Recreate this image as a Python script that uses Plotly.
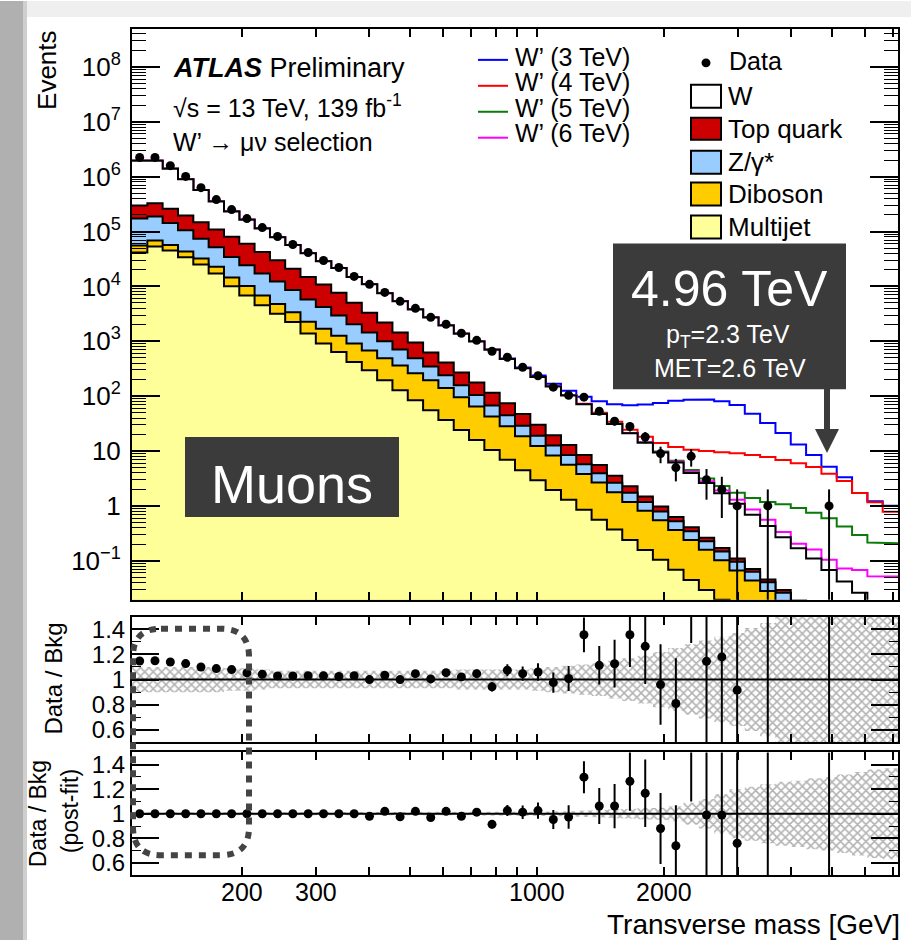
import math
import plotly.graph_objects as go

FIG_W, FIG_H = 911, 941
FONT = "Liberation Sans, Arial, Helvetica, sans-serif"

# ---------------- data ----------------
bin_edges = [110.0, 119.6, 130.0, 141.4, 153.7, 167.1, 181.7, 197.5, 214.7, 233.5,
             253.7, 275.8, 299.9, 326.1, 354.5, 385.4, 419.0, 455.5, 495.2, 538.4,
             585.3, 636.4, 691.8, 752.1, 817.7, 889.0, 966.5, 1050.8, 1142.4, 1242.0,
             1350.2, 1467.9, 1595.9, 1735.0, 1886.3, 2050.7, 2229.5, 2423.9, 2635.2, 2865.0,
             3114.6, 3386.1, 3681.4, 4002.2, 4351.2, 4730.6, 5142.9, 5591.3, 6078.8, 6608.8,
             7184.4]

bkg_w = [1653000, 1623000, 1132000, 700000, 425000, 244000, 152000, 103300, 70900, 49000,
         35500, 25500, 17900, 13900, 9750, 7590, 5330, 3900, 2854, 2098,
         1521, 1101, 816, 583, 403, 275, 193, 130.5, 90.2, 62.5,
         42.0, 27.5, 18.7, 12.7, 8.42, 5.57, 3.59, 2.34, 1.53, 0.98,
         0.619, 0.384, 0.2405, 0.151, 0.0977, 0.0601, 0.0371, 0.023, 0.0141, 0.0088]
bkg_top = [125000, 140000, 116600, 91200, 74300, 56600, 46000, 35600, 25100, 17700,
           12500, 9030, 6650, 4720, 3010, 1870, 1190, 731, 456, 275,
           169, 110.5, 72.0, 47.2, 29.4, 18.5, 11.15, 6.9, 4.34, 2.7,
           1.62, 0.92, 0.55, 0.305, 0.183, 0.106, 0.06, 0.037, 0.022, 0.0134,
           0.0077, 0.005, 0.0032, 0.002, 0.0013, 0.0008, 0.0005, 0.0003, 0.0002, 0.0001]
bkg_z = [116600, 119000, 86000, 62100, 41300, 29100, 19900, 14100, 10400, 7450,
         5180, 3490, 2510, 1690, 1130, 769, 510, 345, 227, 152,
         99, 63, 40.1, 24.9, 16.5, 10.2, 6.75, 4.28, 2.89, 1.95,
         1.28, 0.85, 0.565, 0.362, 0.244, 0.162, 0.107, 0.068, 0.046, 0.0298,
         0.0194, 0.0125, 0.0081, 0.0052, 0.0034, 0.0022, 0.0014, 0.0009, 0.0006, 0.0004]
bkg_diboson = [14100, 15200, 11500, 9000, 7200, 5600, 4400, 3300, 2300, 1600,
               1150, 900, 790, 622, 491, 379, 295, 234, 178, 139,
               104, 71.4, 48.7, 32.2, 21.3, 14.1, 9.35, 6.37, 4.33, 2.95,
               2.1, 1.41, 0.935, 0.655, 0.445, 0.294, 0.195, 0.129, 0.083, 0.0542,
               0.0354, 0.0227, 0.0146, 0.0095, 0.0061, 0.004, 0.0026, 0.0016, 0.001, 0.0006]
bkg_multijet = [41500, 53300, 45200, 34100, 25100, 17200, 10100, 6850, 4520, 3190,
                2240, 1380, 908, 638, 421, 297, 195, 128.5, 84.5, 55.6,
                36.6, 24.1, 15.85, 10.5, 6.92, 4.47, 2.95, 1.95, 1.29, 0.851,
                0.562, 0.372, 0.24, 0.158, 0.105, 0.069, 0.0447, 0.0295, 0.0195, 0.0126,
                0.0083, 0.0055, 0.0036, 0.0023, 0.0015, 0.0009, 0.0006, 0.0004, 0.0002, 0.0001]

# W' signal contributions (drawn on top of the total background)
sig_3tev = [0] * 20 + [1, 2, 3, 5, 7, 10, 14, 18, 22, 27,
                       33, 40, 47, 56, 66, 76, 82, 84, 79, 68,
                       47, 32, 21, 13, 8.4, 5.1, 3.3, 1.7, 1.2, 1.0]
sig_4tev = [0] * 25 + [0.5, 0.8, 1.1, 1.5, 2.0,
                       2.5, 3.0, 3.5, 4.0, 4.6, 5.6, 6.6, 7.4, 7.8, 8.0,
                       7.8, 7.4, 6.6, 5.8, 5.0, 3.8, 2.8, 1.7, 1.15, 0.77]
sig_5tev = [0] * 30 + [0.2, 0.25, 0.3, 0.35, 0.4, 0.45, 0.5, 0.55, 0.6, 0.65,
                       0.7, 0.75, 0.8, 0.75, 0.64, 0.53, 0.38, 0.27, 0.2, 0.2]
sig_6tev = [0] * 33 + [0.12, 0.14, 0.16, 0.18, 0.2, 0.2, 0.2,
                       0.17, 0.13, 0.065, 0.035, 0.05, 0.037, 0.03, 0.042, 0.036, 0.042]

data_counts = [2240000, 2240000, 1585000, 1010000, 630000, 382000, 251000, 172000, 118000, 81000,
               58000, 41500, 29700, 22100, 15200, 10900, 7780, 5340, 3980, 2730,
               2040, 1400, 1040, 658, 512, 337, 236, 146, 104, 96,
               53, 35, 28, 18, 9, 5, 8, 3, 2, 1,
               None, 1, None, None, None, 1, None, None, None, None]
data_err_up = [0] * 30 + [7.3, 5.9, 5.3, 4.2, 3.0, 2.2, 2.8, 1.7, 1.4, 1.0,
                          0, 1.0, 0, 0, 0, 1.0, 0, 0, 0, 0]
data_err_down = [0] * 30 + [7.3, 5.9, 5.3, 4.2, 3.0, 2.2, 2.8, 1.7, 1.4, 0.999,
                            0, 0.999, 0, 0, 0, 0.999, 0, 0, 0, 0]

ratio_prefit = [1.148, 1.15, 1.14, 1.127, 1.10, 1.087, 1.079, 1.053, 1.042, 1.029,
                1.029, 1.03, 1.03, 1.024, 1.03, 1.0, 1.034, 1.0, 1.047, 1.005,
                1.055, 1.021, 1.047, 0.942, 1.074, 1.047, 1.06, 0.976, 1.008, 1.356,
                1.113, 1.126, 1.356, 1.264, 0.96, 0.81, 2.0, 1.145, 1.18, 0.916,
                None, 2.3, None, None, None, 14.7, None, None, None, None]
ratio_prefit_err = [0.001, 0.001, 0.001, 0.001, 0.001, 0.002, 0.002, 0.003, 0.003, 0.004,
                    0.004, 0.005, 0.006, 0.007, 0.008, 0.01, 0.012, 0.014, 0.017, 0.019,
                    0.023, 0.027, 0.032, 0.037, 0.047, 0.057, 0.069, 0.08, 0.099, 0.138,
                    0.153, 0.19, 0.256, 0.3, 0.32, 0.36, 0.71, 0.66, 0.83, 0.92,
                    None, 2.3, None, None, None, 14.7, None, None, None, None]
ratio_postfit = [1.0, 1.0, 1.0, 1.0, 1.0, 1.0, 1.0, 1.0, 1.0, 1.0,
                 1.0, 1.0, 1.0, 1.0, 1.0, 0.98, 1.02, 0.975, 1.02, 0.97,
                 1.02, 0.98, 1.013, 0.914, 1.026, 1.013, 1.026, 0.953, 0.974, 1.298,
                 1.063, 1.063, 1.264, 1.167, 0.88, 0.739, 1.7, 0.99, 0.99, 0.76,
                 None, 2.0, None, None, None, 12.0, None, None, None, None]
ratio_postfit_err = [0.001, 0.001, 0.001, 0.001, 0.001, 0.002, 0.002, 0.003, 0.003, 0.004,
                     0.004, 0.005, 0.006, 0.007, 0.008, 0.01, 0.012, 0.014, 0.017, 0.019,
                     0.022, 0.026, 0.031, 0.035, 0.045, 0.055, 0.066, 0.078, 0.096, 0.13,
                     0.146, 0.18, 0.24, 0.275, 0.29, 0.33, 0.6, 0.57, 0.7, 0.76,
                     None, 2.0, None, None, None, 12.0, None, None, None, None]

band_prefit = [0.10, 0.10, 0.10, 0.10, 0.10, 0.10, 0.09, 0.09, 0.08, 0.07,
               0.07, 0.07, 0.07, 0.07, 0.07, 0.07, 0.07, 0.07, 0.07, 0.07,
               0.07, 0.08, 0.08, 0.08, 0.08, 0.08, 0.09, 0.10, 0.11, 0.12,
               0.13, 0.15, 0.17, 0.19, 0.22, 0.25, 0.28, 0.31, 0.34, 0.37,
               0.41, 0.45, 0.50, 0.6, 0.6, 0.6, 0.6, 0.6, 0.6, 0.6]
band_postfit = [0.01, 0.01, 0.01, 0.01, 0.01, 0.01, 0.01, 0.01, 0.01, 0.01,
                0.01, 0.01, 0.01, 0.01, 0.01, 0.01, 0.01, 0.01, 0.01, 0.01,
                0.012, 0.013, 0.014, 0.015, 0.015, 0.016, 0.017, 0.018, 0.02, 0.025,
                0.03, 0.035, 0.04, 0.045, 0.05, 0.06, 0.09, 0.12, 0.16, 0.2,
                0.22, 0.24, 0.26, 0.27, 0.29, 0.3, 0.32, 0.34, 0.36, 0.37]

x_tick_vals = [200, 300, 1000, 2000]
x_tick_text = ["200", "300", "1000", "2000"]
x_minor_vals = [400, 500, 600, 700, 800, 900, 3000, 4000, 5000, 6000, 7000]
y_main_tick_vals = [1e-1, 1, 10, 1e2, 1e3, 1e4, 1e5, 1e6, 1e7, 1e8]
y_main_tick_text = ["10<sup>−1</sup>", "1", "10", "10<sup>2</sup>", "10<sup>3</sup>",
                    "10<sup>4</sup>", "10<sup>5</sup>", "10<sup>6</sup>", "10<sup>7</sup>",
                    "10<sup>8</sup>"]
y_ratio_tick_vals = [0.6, 0.8, 1.0, 1.2, 1.4]
y_ratio_tick_text = ["0.6", "0.8", "1", "1.2", "1.4"]

stack_names = ["W", "Top quark", "Z/γ*", "Diboson", "Multijet"]
stack_colors = ["#ffffff", "#cc0000", "#99ccff", "#ffcc00", "#ffff99"]
signal_names = ["W’ (3 TeV)", "W’ (4 TeV)", "W’ (5 TeV)", "W’ (6 TeV)"]
signal_colors = ["#0000ff", "#ff0000", "#0a7a0a", "#ff00ff"]


# ---------------- helpers ----------------
def px(x):
    return x / FIG_W


def py(y):
    return 1 - y / FIG_H


nb = len(bin_edges) - 1
centers = [math.sqrt(bin_edges[i] * bin_edges[i + 1]) for i in range(nb)]
Y_FLOOR = 1e-5


def step_path(vals):
    xs, ys = [], []
    for i, v in enumerate(vals):
        xs += [bin_edges[i], bin_edges[i + 1]]
        ys += [v, v]
    return xs, ys


# cumulative stack levels
lvl_mj = list(bkg_multijet)
lvl_dib = [a + b for a, b in zip(lvl_mj, bkg_diboson)]
lvl_z = [a + b for a, b in zip(lvl_dib, bkg_z)]
lvl_top = [a + b for a, b in zip(lvl_z, bkg_top)]
lvl_tot = [a + b for a, b in zip(lvl_top, bkg_w)]
levels = [lvl_tot, lvl_top, lvl_z, lvl_dib, lvl_mj]

fig = go.Figure()

# signal lines (stacked on total background)
for name, sig, col in zip(signal_names, [sig_3tev, sig_4tev, sig_5tev, sig_6tev], signal_colors):
    xs, ys = step_path([t + s for t, s in zip(lvl_tot, sig)])
    fig.add_trace(go.Scatter(x=xs, y=ys, mode="lines", line=dict(color=col, width=2),
                             name=name, hoverinfo="skip", xaxis="x", yaxis="y"))

# stacked backgrounds
for name, lvl, col in zip(stack_names, levels, stack_colors):
    xs, ys = step_path(lvl)
    xs += [bin_edges[-1], bin_edges[0]]
    ys += [Y_FLOOR, Y_FLOOR]
    fig.add_trace(go.Scatter(x=xs, y=ys, mode="lines", fill="toself", fillcolor=col,
                             line=dict(color="black", width=2), name=name,
                             hoverinfo="skip", xaxis="x", yaxis="y"))

# data
fig.add_trace(go.Scatter(x=centers, y=data_counts, mode="markers",
                         marker=dict(color="black", size=9),
                         error_y=dict(type="data", array=data_err_up, arrayminus=data_err_down,
                                      symmetric=False, color="black", thickness=2, width=0),
                         name="Data", xaxis="x", yaxis="y"))


def add_ratio(ratio, err, band, xa, ya):
    xu, yu = step_path([1 + b for b in band])
    xl, yl = step_path([1 - b for b in band])
    fig.add_trace(go.Scatter(x=xu + xl[::-1], y=yu + yl[::-1], mode="lines", fill="toself",
                             fillcolor="rgba(0,0,0,0)",
                             fillpattern=dict(shape="x", fgcolor="#666666", bgcolor="rgba(0,0,0,0)",
                                              size=6, solidity=0.45),
                             line=dict(width=0), hoverinfo="skip", xaxis=xa, yaxis=ya))
    fig.add_trace(go.Scatter(x=centers, y=ratio, mode="markers",
                             marker=dict(color="black", size=9),
                             error_y=dict(type="data", array=err, color="black", thickness=2, width=0),
                             xaxis=xa, yaxis=ya))


add_ratio(ratio_prefit, ratio_prefit_err, band_prefit, "x2", "y2")
add_ratio(ratio_postfit, ratio_postfit_err, band_postfit, "x3", "y3")

# ---------------- axes ----------------
X_DOM = [px(132), px(898)]
xr = [math.log10(bin_edges[0]), math.log10(bin_edges[-1])]
axis_common = dict(showline=True, linecolor="black", linewidth=2, mirror="allticks",
                   ticks="inside", tickcolor="black", showgrid=False, zeroline=False)
xa_common = dict(axis_common, type="log", range=xr, domain=X_DOM, tickmode="array",
                 tickvals=x_tick_vals, ticktext=x_tick_text, ticklen=8, tickwidth=1.5,
                 showticklabels=False,
                 minor=dict(tickmode="array", tickvals=x_minor_vals, ticklen=8, ticks="inside",
                            tickcolor="black", tickwidth=1.5))

minor_main = [m * 10 ** d for d in range(-2, 9) for m in range(2, 10)]
ratio_minor = dict(tickmode="array", tickvals=[0.7, 0.9, 1.1, 1.3], ticklen=9,
                   ticks="inside", tickcolor="black", tickwidth=1.2)
fig.update_layout(
    xaxis=dict(xa_common, anchor="y"),
    xaxis2=dict(xa_common, anchor="y2", matches="x"),
    xaxis3=dict(xa_common, anchor="y3", matches="x"),
    yaxis=dict(axis_common, type="log", range=[-1.709, 8.691], domain=[py(600), py(28)],
               anchor="x", tickmode="array", tickvals=y_main_tick_vals, ticktext=y_main_tick_text,
               ticklen=28, tickwidth=1.5, tickfont=dict(size=26, color="black"),
               ticklabelstandoff=4,
               minor=dict(tickmode="array", tickvals=minor_main, ticklen=14, ticks="inside",
                          tickcolor="black", tickwidth=1.2)),
    yaxis2=dict(axis_common, range=[0.5, 1.5], domain=[py(743), py(617)], anchor="x2",
                tickmode="array", tickvals=y_ratio_tick_vals, ticktext=y_ratio_tick_text,
                ticklen=27, tickwidth=1.5, tickfont=dict(size=24, color="black"),
                ticklabelstandoff=0, minor=ratio_minor),
    yaxis3=dict(axis_common, range=[0.5, 1.5], domain=[py(876), py(753)], anchor="x3",
                tickmode="array", tickvals=y_ratio_tick_vals, ticktext=y_ratio_tick_text,
                ticklen=27, tickwidth=1.5, tickfont=dict(size=24, color="black"),
                ticklabelstandoff=0, minor=ratio_minor),
)

# ---------------- shapes ----------------
shapes = []
# slide background strips
shapes.append(dict(type="rect", xref="paper", yref="paper", x0=0, x1=1, y0=py(16), y1=1,
                   fillcolor="#efefef", line=dict(width=0), layer="below"))
shapes.append(dict(type="rect", xref="paper", yref="paper", x0=0, x1=px(23), y0=0, y1=1,
                   fillcolor="#b0b0b0", line=dict(width=0), layer="below"))
shapes.append(dict(type="rect", xref="paper", yref="paper", x0=px(23), x1=px(27), y0=0, y1=1,
                   fillcolor="#cfcfcf", line=dict(width=0), layer="below"))
# ratio reference lines
for xa, ya in [("x2", "y2"), ("x3", "y3")]:
    shapes.append(dict(type="line", xref=xa + " domain", yref=ya, x0=0, x1=1, y0=1, y1=1,
                       line=dict(color="black", width=2)))


def rect_px(x0, y0, x1, y1, fill, lw=0, lc="black"):
    return dict(type="rect", xref="paper", yref="paper", x0=px(x0), x1=px(x1), y0=py(y1), y1=py(y0),
                fillcolor=fill, line=dict(width=lw, color=lc))


def path_px(points, close=True):
    s = "M " + " L ".join(f"{px(x):.5f},{py(y):.5f}" for x, y in points)
    return s + (" Z" if close else "")


# legend: W' lines
for i, col in enumerate(signal_colors):
    yl = [59, 85, 111, 137][i]
    shapes.append(dict(type="line", xref="paper", yref="paper", x0=px(478), x1=px(508),
                       y0=py(yl), y1=py(yl), line=dict(color=col, width=2)))
# legend: data marker
shapes.append(dict(type="circle", xref="paper", yref="paper", x0=px(701.5), x1=px(710.5),
                   y0=py(66.5), y1=py(57.5), fillcolor="black", line=dict(width=0)))
# legend: stack boxes
for (yt, yb), col in zip([(84, 107), (117, 139), (150, 173), (182, 205), (215, 238)], stack_colors):
    shapes.append(rect_px(691, yt, 721, yb, col, lw=2))

# event display boxes
BOXC = "#3b3b3b"
shapes.append(rect_px(613, 243, 846, 389, BOXC))
shapes.append(rect_px(824, 388, 830, 431, BOXC))
shapes.append(dict(type="path", xref="paper", yref="paper",
                   path=path_px([(815, 429), (839, 429), (827, 453)]),
                   fillcolor=BOXC, line=dict(width=0)))
shapes.append(rect_px(185, 437, 399, 517, BOXC))

# dashed rounded rectangle over the ratio panels
L, R, T, B, r = 133, 249, 629, 856, 28
rr = (f"M {px(L + r):.5f},{py(T):.5f} L {px(R - r):.5f},{py(T):.5f} "
      f"Q {px(R):.5f},{py(T):.5f} {px(R):.5f},{py(T + r):.5f} "
      f"L {px(R):.5f},{py(B - r):.5f} Q {px(R):.5f},{py(B):.5f} {px(R - r):.5f},{py(B):.5f} "
      f"L {px(L + r):.5f},{py(B):.5f} Q {px(L):.5f},{py(B):.5f} {px(L):.5f},{py(B - r):.5f} "
      f"L {px(L):.5f},{py(T + r):.5f} Q {px(L):.5f},{py(T):.5f} {px(L + r):.5f},{py(T):.5f} Z")
shapes.append(dict(type="path", xref="paper", yref="paper", path=rr,
                   line=dict(color="#444444", width=6, dash="7px,7px")))

# ---------------- annotations ----------------
ann = []


def text(x, y, s, size, xanchor="left", color="black", angle=0, yanchor="middle"):
    ann.append(dict(x=px(x), y=py(y), xref="paper", yref="paper", text=s, showarrow=False,
                    xanchor=xanchor, yanchor=yanchor, textangle=angle,
                    font=dict(family=FONT, size=size, color=color)))


# x tick labels of the bottom panel, placed on the log axis
for v, t in zip(x_tick_vals, x_tick_text):
    ann.append(dict(x=math.log10(v), xref="x3", y=py(893), yref="paper", text=t, showarrow=False,
                    xanchor="center", yanchor="middle", font=dict(family=FONT, size=25, color="black")))

text(171, 67, "<b><i>ATLAS</i></b> Preliminary", 27)
text(171, 105, "√s = 13 TeV, 139 fb<sup>-1</sup>", 25)
text(171, 141, "W’ → μν selection", 25)
for i, name in enumerate(signal_names):
    text(513, [56, 81, 107, 132][i], name, 25)
text(727, 60, "Data", 25)
for name, yc in zip(stack_names, [95, 128, 161, 193, 226]):
    text(726, yc, name, 26)
text(729.5, 289, "4.96 TeV", 50, xanchor="center", color="white")
text(728, 336, "p<sub>T</sub>=2.3 TeV", 25, xanchor="center", color="white")
text(730, 368, "MET=2.6 TeV", 25, xanchor="center", color="white")
text(292, 484, "Muons", 54, xanchor="center", color="white")

text(47, 27, "Events", 26, xanchor="center", angle=-90, yanchor="top")
text(54, 679, "Data / Bkg", 24, xanchor="center", angle=-90)
text(38, 815, "Data / Bkg", 23, xanchor="center", angle=-90)
text(70, 812, "(post-fit)", 23, xanchor="center", angle=-90)
text(902, 925, "Transverse mass [GeV]", 28, xanchor="right")

fig.update_layout(
    width=FIG_W, height=FIG_H, margin=dict(l=0, r=0, t=0, b=0),
    paper_bgcolor="white", plot_bgcolor="white", showlegend=False,
    font=dict(family=FONT, color="black"),
    shapes=shapes, annotations=ann,
)

fig.write_html("out.html", config={"displayModeBar": False},
               post_script="document.body.style.margin='0px';document.body.style.overflow='hidden';")
